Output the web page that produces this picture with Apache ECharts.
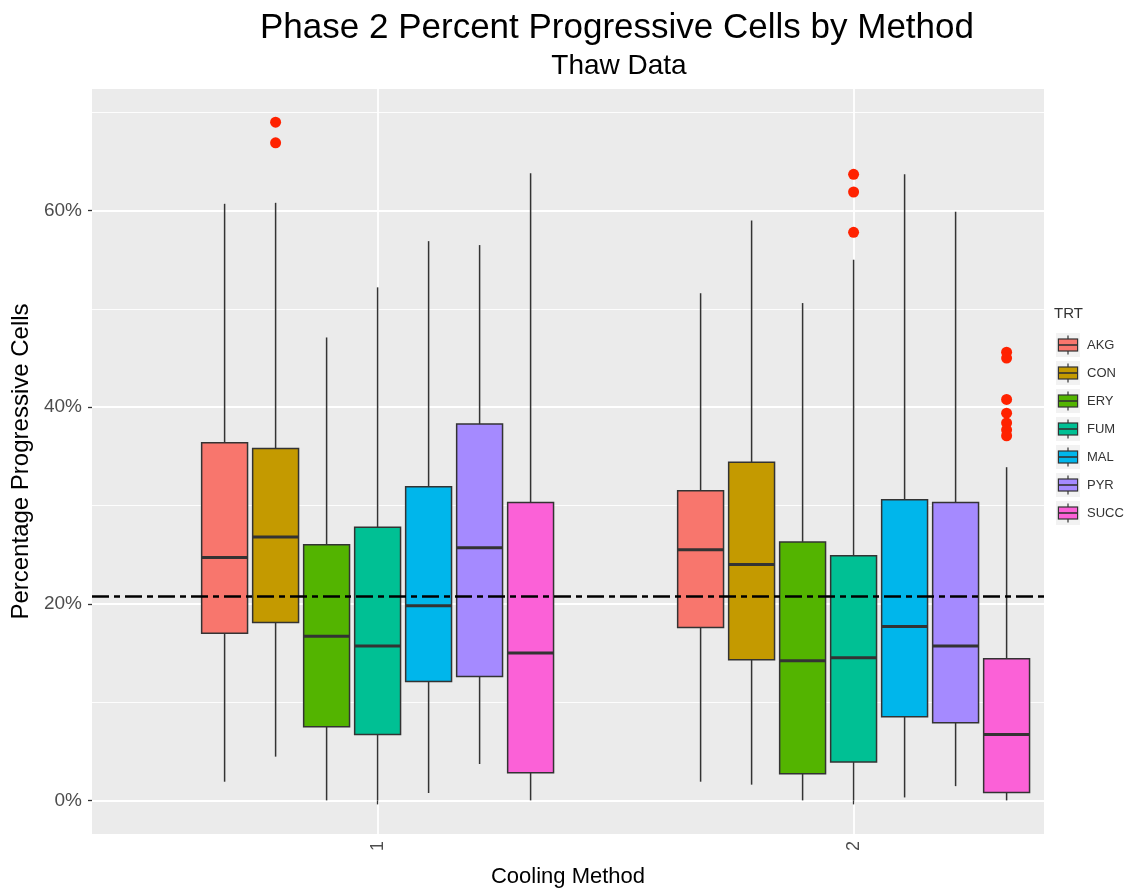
<!DOCTYPE html>
<html><head><meta charset="utf-8">
<script src="https://cdn.jsdelivr.net/npm/echarts@6/dist/echarts.min.js"></script>
<style>html,body{margin:0;padding:0;background:#fff}#c{width:1130px;height:893px}</style>
</head><body><div id="c"></div>
<script>
// ---- data ----
const methods = [1, 2];
const treatments = ['AKG', 'CON', 'ERY', 'FUM', 'MAL', 'PYR', 'SUCC'];
const colors = ['#F8766D', '#C49A00', '#53B400', '#00C094', '#00B6EB', '#A58AFF', '#FB61D7'];
// [lower whisker, Q1, median, Q3, upper whisker] per treatment
const statsMethod1 = [
  [1.9, 17.0, 24.7, 36.4, 60.7],
  [4.45, 18.1, 26.8, 35.8, 60.8],
  [0, 7.5, 16.7, 26.0, 47.1],
  [0, 6.7, 15.7, 27.8, 52.2],
  [0.75, 12.1, 19.8, 31.9, 56.9],
  [3.7, 12.6, 25.7, 38.3, 56.5],
  [0, 2.8, 15.0, 30.3, 63.8]
];
const statsMethod2 = [
  [1.9, 17.6, 25.5, 31.5, 51.6],
  [1.6, 14.3, 24.0, 34.4, 59.0],
  [0, 2.7, 14.2, 26.3, 50.6],
  [0, 3.9, 14.5, 24.9, 55.0],
  [0.3, 8.5, 17.7, 30.6, 63.7],
  [1.45, 7.9, 15.7, 30.3, 59.9],
  [0, 0.8, 6.7, 14.4, 33.9]
];
const outliersMethod1 = [[], [69.0, 66.9], [], [], [], [], []];
const outliersMethod2 = [[], [], [], [63.7, 61.9, 57.8], [], [], [45.6, 45.0, 40.8, 39.4, 38.4, 37.7, 37.1]];
const referenceLine = 20.8;
const yMajorTicks = [0, 20, 40, 60];
const yMinorTicks = [10, 30, 50, 70];

// ---- layout params ----
const FONT = 'Liberation Sans';
const dodgeWidth = 0.75;
const slot = dodgeWidth / treatments.length;
const boxHalf = slot * 0.9 / 2;
function xPos(m, t) { return m + (t - (treatments.length - 1) / 2) * slot; }

function renderBox(params, api) {
  const x = api.value(0);
  const low = api.value(1), q1 = api.value(2), med = api.value(3), q3 = api.value(4), high = api.value(5);
  const color = colors[api.value(6)];
  const pTopL = api.coord([x - boxHalf, q3]);
  const pBotR = api.coord([x + boxHalf, q1]);
  const pHigh = api.coord([x, high]);
  const pLow = api.coord([x, low]);
  const pQ3 = api.coord([x, q3]);
  const pQ1 = api.coord([x, q1]);
  const pMed = api.coord([x, med]);
  const st = { stroke: '#333333', lineWidth: 1.5, lineCap: 'butt' };
  return {
    type: 'group',
    children: [
      { type: 'line', shape: { x1: pHigh[0], y1: pHigh[1], x2: pQ3[0], y2: pQ3[1] }, style: st },
      { type: 'line', shape: { x1: pLow[0], y1: pLow[1], x2: pQ1[0], y2: pQ1[1] }, style: st },
      { type: 'rect', shape: { x: pTopL[0], y: pTopL[1], width: pBotR[0] - pTopL[0], height: pBotR[1] - pTopL[1] },
        style: { fill: color, stroke: '#333333', lineWidth: 1.5 } },
      { type: 'line', shape: { x1: pTopL[0], y1: pMed[1], x2: pBotR[0], y2: pMed[1] }, style: { stroke: '#333333', lineWidth: 3 } }
    ]
  };
}

function keyIcon(c) {
  const svg = '<svg xmlns="http://www.w3.org/2000/svg" width="24" height="24" viewBox="0 0 24 24">' +
    '<rect x="0" y="0" width="24" height="24" fill="#f2f2f2"/>' +
    '<line x1="12" y1="2.4" x2="12" y2="21.6" stroke="#333" stroke-width="1.2"/>' +
    '<rect x="2.4" y="6" width="19.2" height="12" fill="' + c + '" stroke="#333" stroke-width="1.2"/>' +
    '<line x1="2.4" y1="12" x2="21.6" y2="12" stroke="#333" stroke-width="1.6"/>' +
    '</svg>';
  return 'image://data:image/svg+xml;charset=utf-8,' + encodeURIComponent(svg);
}

const series = [];
// grid lines
series.push({
  type: 'line', data: [], z: 0, silent: true,
  markLine: {
    silent: true, z: 0, symbol: ['none', 'none'], label: { show: false },
    lineStyle: { color: '#ffffff', type: 'solid' },
    data: [].concat(
      yMajorTicks.map(v => ({ yAxis: v, lineStyle: { width: 1.8, color: '#fff', type: 'solid' } })),
      yMinorTicks.map(v => ({ yAxis: v, lineStyle: { width: 0.9, color: '#fff', type: 'solid' } })),
      methods.map(m => ({ xAxis: m, lineStyle: { width: 1.8, color: '#fff', type: 'solid' } }))
    )
  }
});
treatments.forEach((t, i) => {
  const data = [
    [xPos(1, i)].concat(statsMethod1[i]).concat([i]),
    [xPos(2, i)].concat(statsMethod2[i]).concat([i])
  ];
  series.push({
    name: t, type: 'custom', z: 3, renderItem: renderBox,
    itemStyle: { color: colors[i] },
    encode: { x: 0, y: [1, 2, 3, 4, 5] },
    data: data
  });
  const outs = outliersMethod1[i].map(v => [xPos(1, i), v]).concat(outliersMethod2[i].map(v => [xPos(2, i), v]));
  if (outs.length) {
    series.push({
      name: t, type: 'scatter', z: 4, symbolSize: 11,
      itemStyle: { color: '#ff2200', opacity: 1 },
      data: outs
    });
  }
});
series.push({
  type: 'line', data: [], z: 6, silent: true,
  markLine: {
    silent: true, z: 10, symbol: ['none', 'none'], label: { show: false },
    lineStyle: { color: '#000', width: 2.7, type: [17, 5, 6, 5] },
    data: [{ yAxis: referenceLine }]
  }
});

const chart = echarts.init(document.getElementById('c'));
chart.setOption({
  animation: false,
  textStyle: { fontFamily: FONT },
  title: [
    { text: 'Phase 2 Percent Progressive Cells by Method', left: 612, top: 6, textAlign: 'center',
      textStyle: { fontFamily: FONT, fontSize: 35, fontWeight: 'normal', color: '#000' } },
    { text: 'Thaw Data', left: 614, top: 47, textAlign: 'center',
      textStyle: { fontFamily: FONT, fontSize: 28, fontWeight: 'normal', color: '#000' } },
    { text: 'TRT', left: 1049, top: 301,
      textStyle: { fontFamily: FONT, fontSize: 15, fontWeight: 'normal', color: '#333' } }
  ],
  legend: {
    orient: 'vertical', left: 1051, top: 328, itemWidth: 24, itemHeight: 24, itemGap: 4,
    selectedMode: false,
    textStyle: { fontFamily: FONT, fontSize: 13, color: '#333', padding: [0, 0, 0, 2] },
    data: treatments.map((t, i) => ({ name: t, icon: keyIcon(colors[i]) }))
  },
  grid: { left: 92, right: 86, top: 89, bottom: 59, show: true, backgroundColor: '#ebebeb', borderWidth: 0 },
  xAxis: {
    type: 'value', min: 0.4, max: 2.4,
    axisLine: { show: false },
    axisTick: { show: true, customValues: methods, length: 4, lineStyle: { color: '#333', width: 1.3 } },
    axisLabel: { customValues: methods, rotate: 90, formatter: v => String(v), color: '#4d4d4d', fontSize: 18, margin: 7, fontFamily: FONT },
    splitLine: { show: false },
    name: 'Cooling Method', nameLocation: 'middle', nameGap: 32,
    nameTextStyle: { fontFamily: FONT, fontSize: 22, color: '#000' }
  },
  yAxis: {
    type: 'value', min: -3.42, max: 72.38,
    axisLine: { show: false },
    axisTick: { show: true, customValues: yMajorTicks, length: 4, lineStyle: { color: '#333', width: 1.3 } },
    axisLabel: { customValues: yMajorTicks, formatter: v => v + '%', color: '#4d4d4d', fontSize: 19, margin: 10, fontFamily: FONT },
    splitLine: { show: false },
    name: 'Percentage Progressive Cells', nameLocation: 'middle', nameGap: 57,
    nameTextStyle: { fontFamily: FONT, fontSize: 24, color: '#000' }
  },
  series: series
});
</script>
</body></html>
